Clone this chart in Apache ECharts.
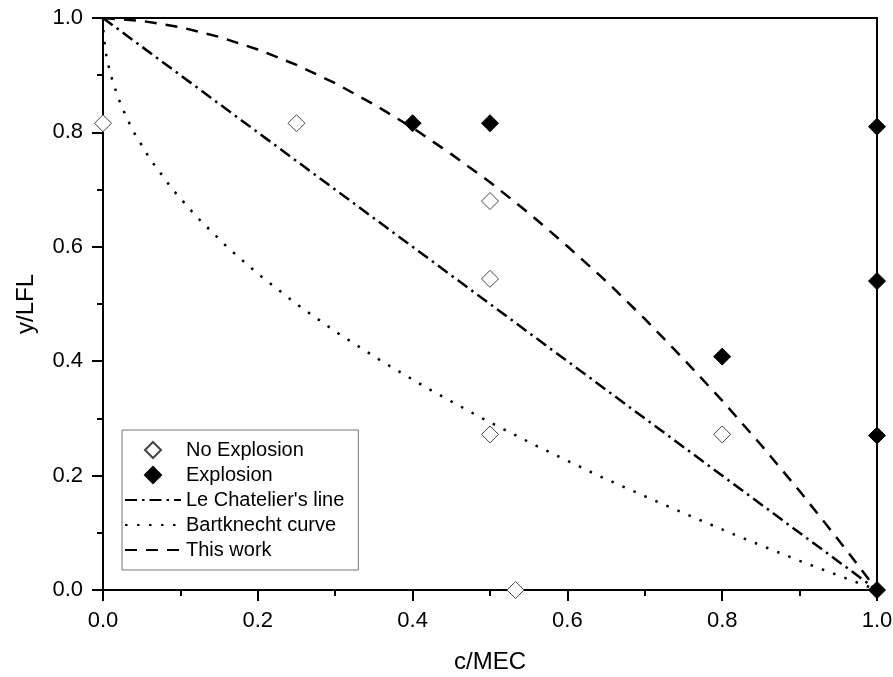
<!DOCTYPE html>
<html>
<head>
<meta charset="utf-8">
<script src="https://cdn.jsdelivr.net/npm/echarts@6/dist/echarts.min.js"></script>
<style>html,body{margin:0;padding:0;background:#fff}#c{width:893px;height:677px}</style>
</head>
<body>
<div id="c"></div>
<script>
// Data
var noExplosion = [[0, 0.816], [0.25, 0.816], [0.5, 0.68], [0.5, 0.544], [0.5, 0.272], [0.8, 0.272], [0.533, 0]];
var explosion = [[0.4, 0.816], [0.5, 0.816], [0.8, 0.408], [1, 0.81], [1, 0.54], [1, 0.27], [1, 0]];
var leChatelierX = [0, 1];
var leChatelierY = [1, 0];
var bartknechtX = [0, 0.000625, 0.0025, 0.005, 0.01, 0.02, 0.03, 0.04, 0.06, 0.09, 0.12, 0.16, 0.2, 0.25, 0.3, 0.36, 0.42, 0.49, 0.56, 0.64, 0.72, 0.81, 0.9, 1.0];
var bartknechtY = [1, 0.975, 0.95, 0.929, 0.9, 0.859, 0.827, 0.8, 0.755, 0.7, 0.654, 0.6, 0.553, 0.5, 0.452, 0.4, 0.352, 0.3, 0.252, 0.2, 0.152, 0.1, 0.051, 0];
var thisWorkX = [0, 0.05, 0.1, 0.15, 0.2, 0.25, 0.3, 0.35, 0.4, 0.45, 0.5, 0.55, 0.6, 0.65, 0.7, 0.75, 0.8, 0.85, 0.9, 0.95, 1];
var thisWorkY = [1, 0.995, 0.984, 0.967, 0.945, 0.918, 0.886, 0.849, 0.808, 0.762, 0.713, 0.659, 0.601, 0.540, 0.474, 0.404, 0.331, 0.254, 0.173, 0.088, 0];
var xTicks = ['0.0', '0.2', '0.4', '0.6', '0.8', '1.0'];
var yTicks = ['0.0', '0.2', '0.4', '0.6', '0.8', '1.0'];

function zip(xs, ys) { return xs.map(function (x, i) { return [x, ys[i]]; }); }
var FONT = '"Liberation Sans", Arial, sans-serif';
var DIAMOND = 'path://M10,0L20,10L10,20L0,10Z';
var HIDE_SYM = { color: 'rgba(0,0,0,0)', borderColor: 'rgba(0,0,0,0)', borderWidth: 0, opacity: 0 };

var chart = echarts.init(document.getElementById('c'), null, { renderer: 'canvas' });
chart.setOption({
  animation: false,
  backgroundColor: '#fff',
  grid: { left: 103, right: 16, top: 18, bottom: 87, show: true, borderColor: '#000', borderWidth: 2, containLabel: false, outerBoundsMode: 'none' },
  xAxis: {
    type: 'value', min: 0, max: 1, interval: 0.2,
    name: 'c/MEC', nameLocation: 'middle', nameGap: 60,
    nameTextStyle: { fontFamily: FONT, fontSize: 24, color: '#000' },
    axisLine: { show: true, lineStyle: { color: '#000', width: 2 } },
    axisTick: { show: true, inside: false, length: 11, lineStyle: { color: '#000', width: 2 } },
    minorTick: { show: true, splitNumber: 2, length: 6, lineStyle: { color: '#000', width: 2 } },
    axisLabel: { fontFamily: FONT, fontSize: 22, color: '#000', margin: 20,
      formatter: function (v) { return xTicks[Math.round(v / 0.2)]; } },
    splitLine: { show: false }
  },
  yAxis: {
    type: 'value', min: 0, max: 1, interval: 0.2,
    name: 'y/LFL', nameLocation: 'middle', nameGap: 65, nameRotate: 90,
    nameTextStyle: { fontFamily: FONT, fontSize: 24, color: '#000' },
    axisLine: { show: true, lineStyle: { color: '#000', width: 2 } },
    axisTick: { show: true, inside: false, length: 11, lineStyle: { color: '#000', width: 2 } },
    minorTick: { show: true, splitNumber: 2, length: 6, lineStyle: { color: '#000', width: 2 } },
    axisLabel: { fontFamily: FONT, fontSize: 22, color: '#000', margin: 20,
      formatter: function (v) { return yTicks[Math.round(v / 0.2)]; } },
    splitLine: { show: false }
  },
  legend: {
    orient: 'vertical', left: 122, top: 430,
    backgroundColor: '#fff', borderColor: '#777', borderWidth: 1,
    padding: [10, 14, 10, 2],
    itemWidth: 56, itemHeight: 16, itemGap: 5,
    symbolKeepAspect: true,
    textStyle: { fontFamily: FONT, fontSize: 20, color: '#000' },
    data: [
      { name: 'No Explosion', icon: DIAMOND },
      { name: 'Explosion', icon: DIAMOND },
      { name: "Le Chatelier's line", itemStyle: HIDE_SYM },
      { name: 'Bartknecht curve', itemStyle: HIDE_SYM },
      { name: 'This work', itemStyle: HIDE_SYM }
    ]
  },
  series: [
    {
      name: "Le Chatelier's line", type: 'line', data: zip(leChatelierX, leChatelierY),
      showSymbol: false, symbol: 'none', z: 2,
      lineStyle: { color: '#000', width: 2.5, type: [12, 5, 2.5, 5] },
      itemStyle: { color: '#000' }
    },
    {
      name: 'Bartknecht curve', type: 'line', data: zip(bartknechtX, bartknechtY),
      showSymbol: false, symbol: 'none', smooth: false, z: 2,
      lineStyle: { color: '#000', width: 2.5, type: [2.5, 9.5] },
      itemStyle: { color: '#000' }
    },
    {
      name: 'This work', type: 'line', data: zip(thisWorkX, thisWorkY),
      showSymbol: false, symbol: 'none', smooth: false, z: 2,
      lineStyle: { color: '#000', width: 2.5, type: [12, 9] },
      itemStyle: { color: '#000' }
    },
    {
      name: 'No Explosion', type: 'scatter', data: noExplosion, symbol: 'diamond', symbolSize: 17, z: 5, clip: false,
      itemStyle: { color: '#fff', borderColor: '#444', borderWidth: 1, opacity: 1 }
    },
    {
      name: 'Explosion', type: 'scatter', data: explosion, symbol: 'diamond', symbolSize: 17, z: 5, clip: false,
      itemStyle: { color: '#000', borderColor: '#000', borderWidth: 1, opacity: 1 }
    }
  ]
});
</script>
</body>
</html>
